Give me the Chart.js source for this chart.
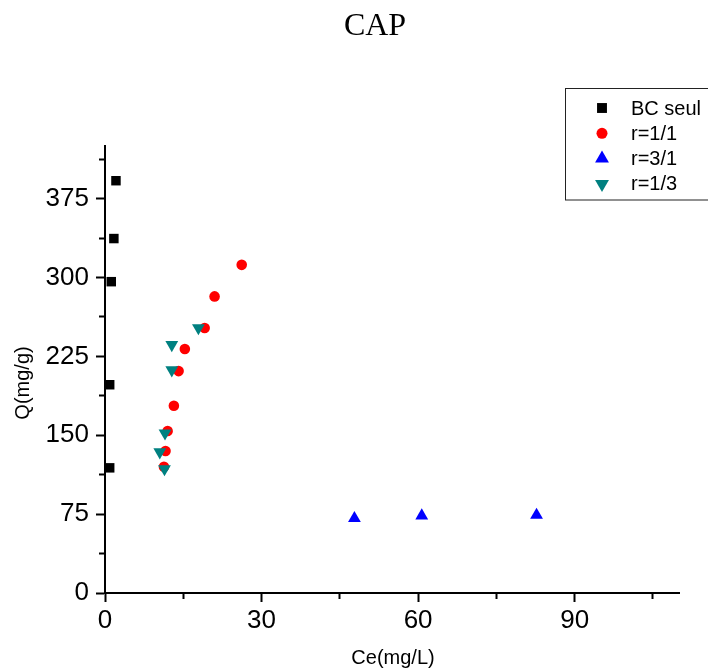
<!DOCTYPE html>
<html lang="fr">
<head>
<meta charset="UTF-8">
<title>CAP</title>
<script src="https://cdn.jsdelivr.net/npm/chart.js@4.4.1/dist/chart.umd.min.js"></script>
<style>
  html, body { margin: 0; padding: 0; background: #fff; }
  #wrap { width: 708px; height: 672px; }
</style>
</head>
<body>
<div id="wrap"><canvas id="cap"></canvas></div>

<script>
// valeurs
const chartTitle = 'CAP';
const xTitle = 'Ce(mg/L)';
const yTitle = 'Q(mg/g)';
const seriesNames = ['BC seul', 'r=1/1', 'r=3/1', 'r=1/3'];

const bcCe = [2.1, 1.7, 1.2, 0.9, 0.9];
const bcQ  = [392, 337, 296, 198, 119];

const r11Ce = [26.2, 21.0, 19.1, 15.3, 14.1, 13.2, 12.0, 11.6, 11.3];
const r11Q  = [312, 282, 252, 232, 211, 178, 154, 135, 120];

const r31Ce = [47.8, 60.7, 82.7];
const r31Q  = [71, 73.5, 74];

const r13Ce = [17.9, 12.8, 12.8, 11.5, 10.5, 11.4];
const r13Q  = [252, 236, 212, 152, 134, 118];

const xTicks  = [0, 15, 30, 45, 60, 75, 90, 105];
const xLabels = [0, 30, 60, 90];
const yTicks  = [0, 37.5, 75, 112.5, 150, 187.5, 225, 262.5, 300, 337.5, 375, 412.5];
const yLabels = [0, 75, 150, 225, 300, 375];

const sans = '"Liberation Sans", Arial, sans-serif';

function pts(xs, ys) {
  return xs.map((x, i) => ({ x: x, y: ys[i] }));
}

// titre, titres d'axes et légende encadrée
const texts = {
  id: 'texts',
  afterDraw(chart) {
    const c = chart.ctx;
    c.save();
    c.fillStyle = '#000';
    c.textAlign = 'center';
    c.textBaseline = 'alphabetic';
    c.font = '32px "Liberation Serif", "Times New Roman", serif';
    c.fillText(chartTitle, 375, 35);

    c.font = '20px ' + sans;
    c.textBaseline = 'middle';
    c.fillText(xTitle, 393, 658);
    c.save();
    c.translate(23, 383);
    c.rotate(-Math.PI / 2);
    c.fillText(yTitle, 0, 0);
    c.restore();

    // légende
    c.strokeStyle = '#222';
    c.lineWidth = 1;
    c.strokeRect(565.5, 88.5, 160, 111.5);
    const sizes = [7, 5.5, 8, 8];
    chart.data.datasets.forEach((ds, i) => {
      const y = 108 + i * 25.3;
      c.fillStyle = ds.backgroundColor;
      Chart.helpers.drawPoint(c, {
        pointStyle: ds.pointStyle,
        rotation: ds.pointRotation || 0,
        radius: sizes[i],
        borderWidth: 0
      }, 602, y);
      c.fillStyle = '#000';
      c.textAlign = 'left';
      c.font = '20px ' + sans;
      c.fillText(ds.label, 631, y + 1);
    });
    c.restore();
  }
};

function isIn(list) {
  return v => list.includes(v);
}

new Chart(document.getElementById('cap'), {
  type: 'scatter',
  data: {
    datasets: [
      { label: seriesNames[0], data: pts(bcCe, bcQ), pointStyle: 'rect', pointRadius: 6.7,
        backgroundColor: '#000000', borderWidth: 0, order: 3 },
      { label: seriesNames[1], data: pts(r11Ce, r11Q), pointStyle: 'circle', pointRadius: 5.3,
        backgroundColor: '#ff0000', borderWidth: 0, order: 2 },
      { label: seriesNames[2], data: pts(r31Ce, r31Q), pointStyle: 'triangle', pointRadius: 7.4,
        backgroundColor: '#0000ff', borderWidth: 0, order: 1 },
      { label: seriesNames[3], data: pts(r13Ce, r13Q), pointStyle: 'triangle', pointRotation: 180, pointRadius: 7.4,
        backgroundColor: '#008080', borderWidth: 0, order: 0 }
    ]
  },
  options: {
    responsive: true,
    maintainAspectRatio: false,
    animation: false,
    layout: { padding: { top: 146, right: 29, bottom: 0, left: 0 } },
    plugins: {
      legend: { display: false },
      title: { display: false },
      tooltip: { enabled: false }
    },
    scales: {
      x: {
        type: 'linear',
        min: 0,
        max: 110,
        afterBuildTicks: s => { s.ticks = xTicks.map(v => ({ value: v })); },
        afterFit: s => { s.height = 79; },
        ticks: {
          autoSkip: false,
          maxRotation: 0,
          padding: 3,
          color: '#000',
          font: { size: 26, family: sans },
          callback: v => (xLabels.includes(v) ? String(v) : '')
        },
        grid: {
          drawOnChartArea: false,
          tickLength: 9,
          tickWidth: 2,
          tickColor: '#000',
          tickBorderDash: ctx => (ctx.tick && !isIn(xLabels)(ctx.tick.value) ? [5, 100] : [])
        },
        border: { color: '#000', width: 2 }
      },
      y: {
        type: 'linear',
        min: 0,
        max: 425,
        afterBuildTicks: s => { s.ticks = yTicks.map(v => ({ value: v })); },
        afterFit: s => { s.width = 105; },
        ticks: {
          autoSkip: false,
          padding: 7,
          color: '#000',
          font: { size: 26, family: sans },
          callback: v => (yLabels.includes(v) ? String(v) : '')
        },
        grid: {
          drawOnChartArea: false,
          tickLength: 9,
          tickWidth: 2,
          tickColor: '#000',
          tickBorderDash: ctx => (ctx.tick && !isIn(yLabels)(ctx.tick.value) ? [0, 3, 5, 100] : [])
        },
        border: { color: '#000', width: 2 }
      }
    }
  },
  plugins: [texts]
});
</script>
</body>
</html>
